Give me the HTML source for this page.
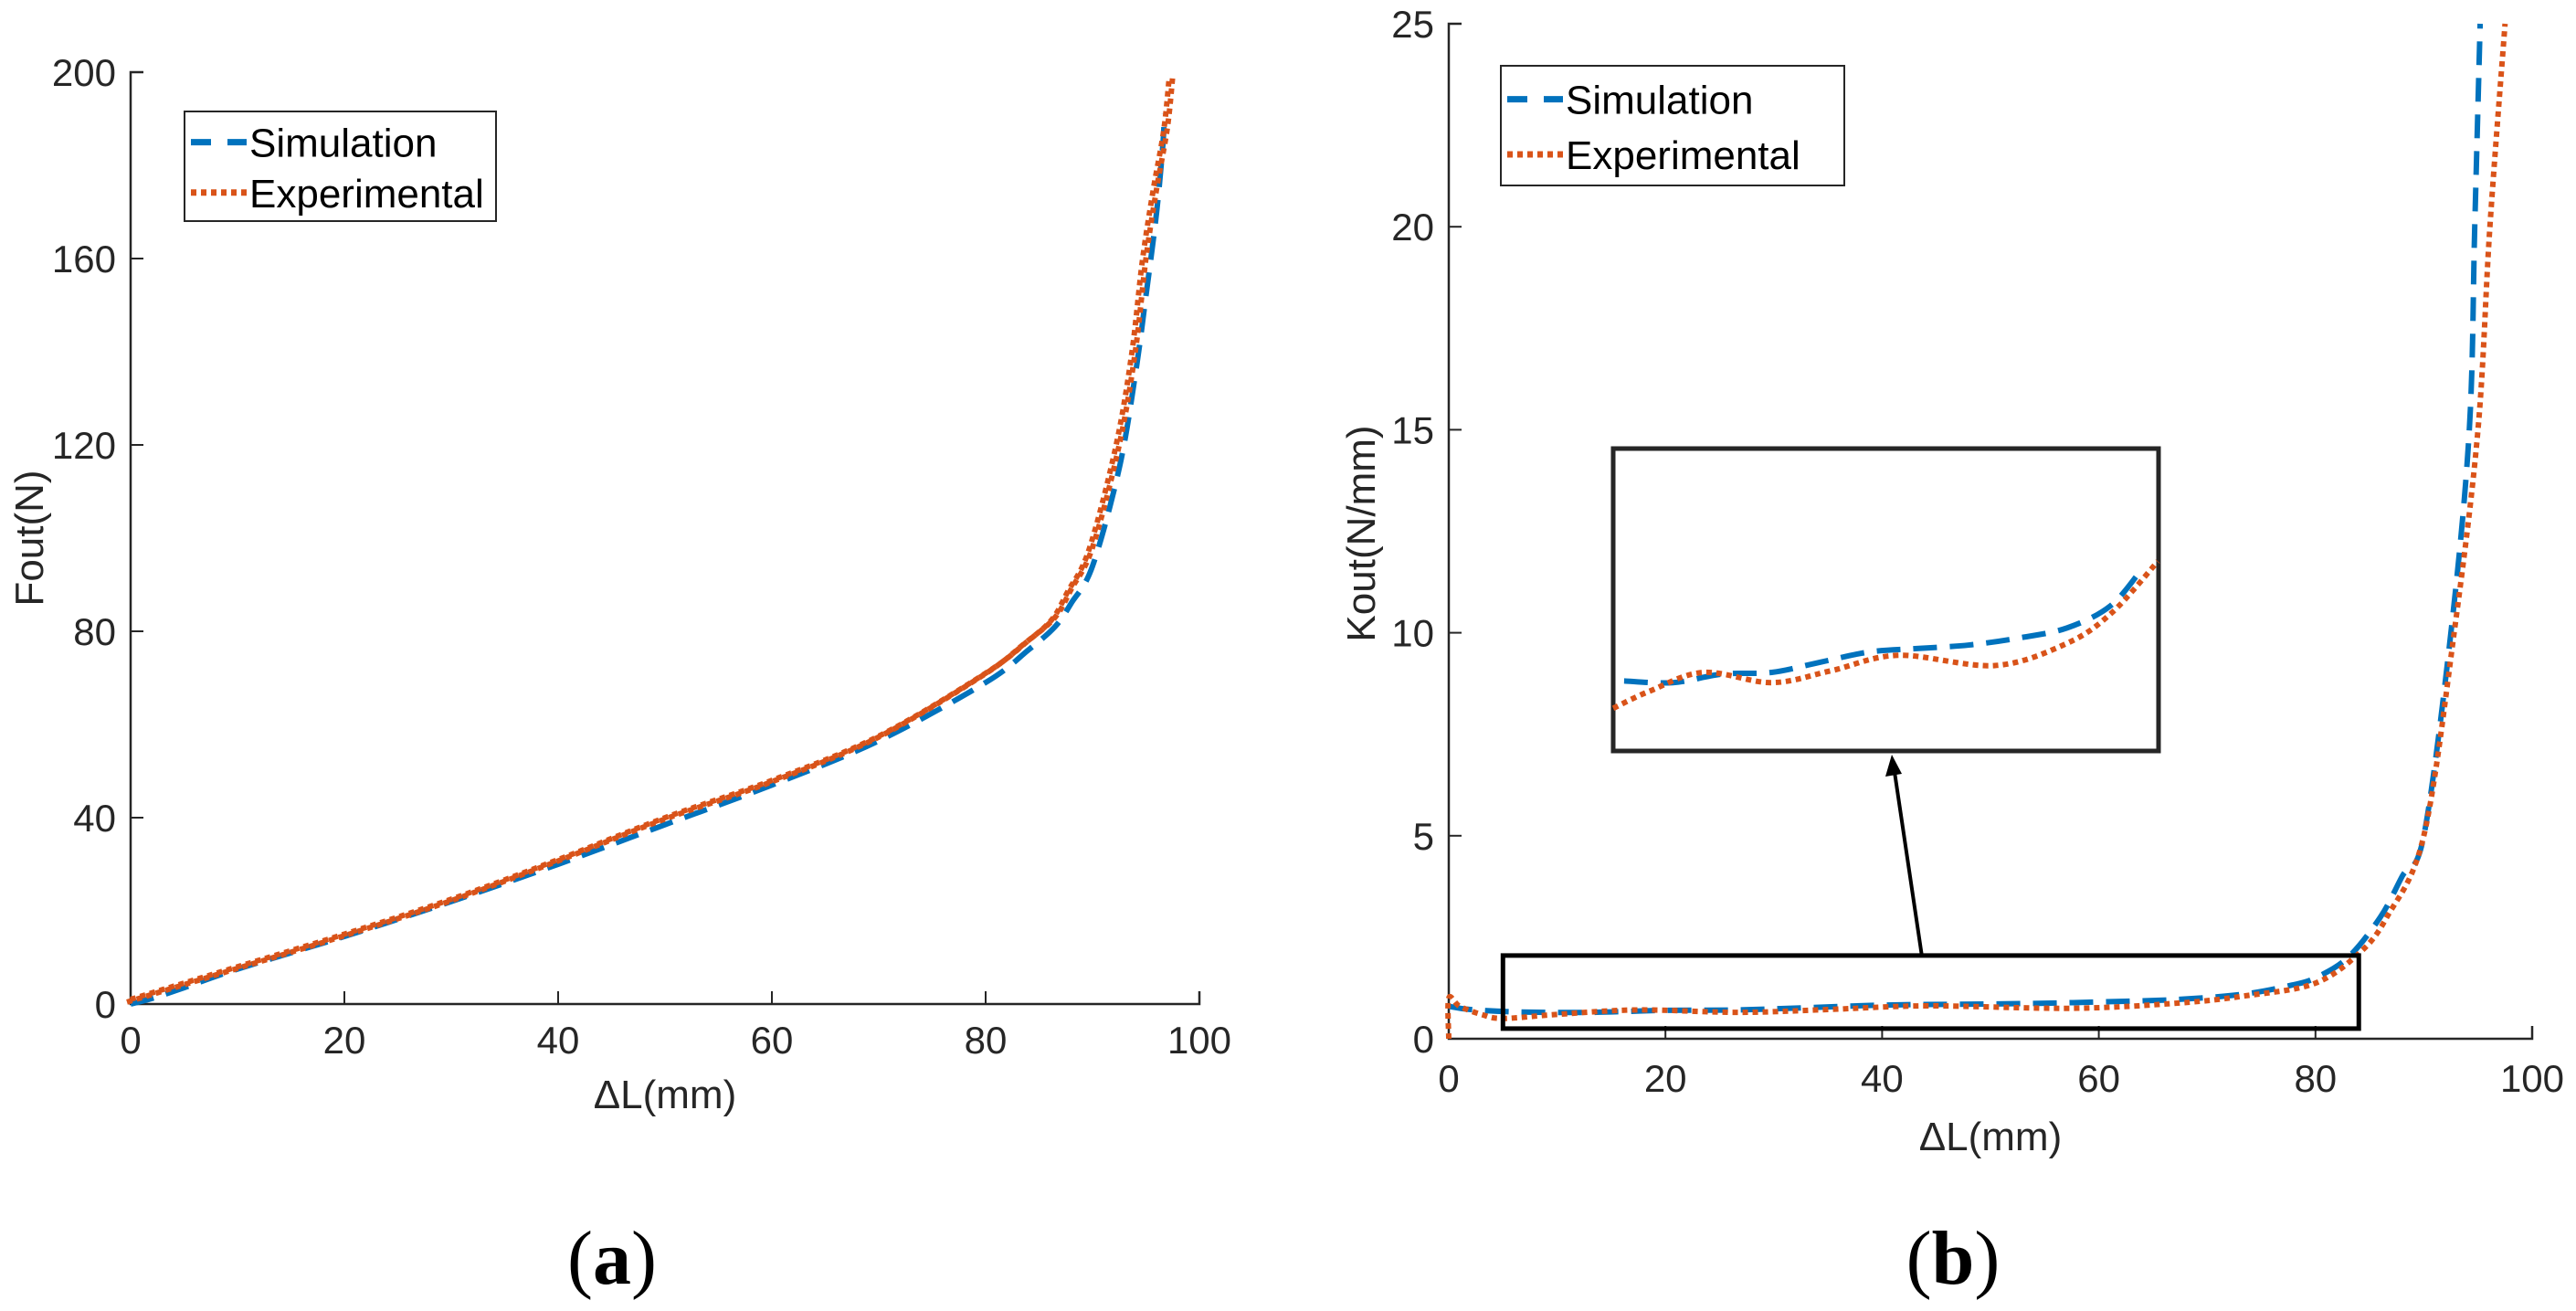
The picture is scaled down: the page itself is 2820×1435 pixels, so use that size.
<!DOCTYPE html>
<html><head><meta charset="utf-8"><style>
body{margin:0;background:#fff}
svg text{font-family:"Liberation Sans",sans-serif;fill:#262626}
</style></head><body>
<svg id="c" width="2820" height="1430" viewBox="0 0 2820 1430" xmlns="http://www.w3.org/2000/svg"></svg>
<script>
const xTicks=[0,20,40,60,80,100];
const fTicks=[0,40,80,120,160,200];
const kTicks=[0,5,10,15,20,25];
const fSimX=[0,2,5,10,20,30,40,50,60,70,80,84,86.5,88,90,92.5,94,95,96,96.6,96.7];
const fSimY=[0,1.2,3.5,7.5,14.5,22,30,38.5,47,56.5,69,76,81,86,94,115,135,152,170,185,191];
const fExpX=[0,5,10,20,30,40,50,60,70,80,84,86.5,88,90,92.5,94,95,96,97,97.5];
const fExpY=[1,4.5,8,15,22.5,31,40,48,57.5,71,78,83,89,98,120,140,160,175,188,199];
const kSimX=[0,2,6.5,13.2,20,26.8,33.5,40.3,47,53.9,60.6,67.4,73.4,77.8,80,83,86,88,90,92.5,94.2,94.7,95.2];
const kSimY=[0.8,0.72,0.66,0.65,0.7,0.71,0.77,0.83,0.85,0.87,0.91,0.97,1.1,1.32,1.5,2,3,4,5,10,15,20,25];
const kExpX=[0,0,1,3,5,10,17.4,26.8,35,44.2,57.5,67.4,73.6,79.9,84,86.6,90,92.8,95,96.1,97.5];
const kExpY=[0,1,0.8,0.6,0.5,0.6,0.71,0.65,0.72,0.81,0.75,0.88,1.06,1.36,2.1,3,5,10,15,20,25];
const svg=document.getElementById('c');const NS='http://www.w3.org/2000/svg';
function mk(t,a,p){const e=document.createElementNS(NS,t);for(const k in a)e.setAttribute(k,a[k]);(p||svg).appendChild(e);return e;}
function path(xs,ys,fx,fy){const p=xs.map((x,i)=>[fx(x),fy(ys[i])]);let d='M'+p[0][0]+','+p[0][1];
for(let i=0;i<p.length-1;i++){const p0=p[Math.max(0,i-1)],p1=p[i],p2=p[i+1],p3=p[Math.min(p.length-1,i+2)];
d+=' C'+(p1[0]+(p2[0]-p0[0])/6)+','+(p1[1]+(p2[1]-p0[1])/6)+' '+(p2[0]-(p3[0]-p1[0])/6)+','+(p2[1]-(p3[1]-p1[1])/6)+' '+p2[0]+','+p2[1];}return d;}
function axes(x0,x1,y0,y1,ymax,yt,tag,ylab,ylx,yly,xly,xlx,tly){
 const fx=v=>x0+(x1-x0)*v/100, fy=v=>y0-(y0-y1)*v/ymax;
 let e=mk('path',{d:`M${x0+14},${y1}H${x0}V${y0}H${x1}V${y0-14}`,fill:'none',stroke:'#262626','stroke-width':2.5});
 
 xTicks.forEach(t=>{mk('line',{x1:fx(t),x2:fx(t),y1:y0,y2:y0-14,stroke:'#262626','stroke-width':2});
  e=mk('text',{x:fx(t),y:tly+15,'font-size':42,'text-anchor':'middle'});e.textContent=t;
  });
 yt.forEach(t=>{mk('line',{x1:x0,x2:x0+14,y1:fy(t),y2:fy(t),stroke:'#262626','stroke-width':2});
  e=mk('text',{x:x0-16,y:fy(t)+15,'font-size':42,'text-anchor':'end'});e.textContent=t;
  });
 e=mk('text',{x:xlx,y:xly+16,'font-size':44,'text-anchor':'middle'});e.textContent='ΔL(mm)';
 
 e=mk('text',{x:0,y:0,'font-size':44,'text-anchor':'middle',transform:`translate(${ylx+16},${yly}) rotate(-90)`});e.textContent=ylab;
 
 return [fx,fy];}
function series(xs,ys,fx,fy,sim,name){const e=mk('path',{d:path(xs,ys,fx,fy),fill:'none',stroke:sim?'#0072BD':'#D95319','stroke-width':6,'stroke-dasharray':sim?'26,14':'6,5'});
 }
function legend(x,y,w,h,tag){let e=mk('rect',{x,y,width:w,height:h,fill:'#fff',stroke:'#262626','stroke-width':2});
 
 mk('line',{x1:x+7,x2:x+68,y1:y+h*0.28,y2:y+h*0.28,stroke:'#0072BD','stroke-width':7,'stroke-dasharray':'22,18'});
 mk('line',{x1:x+7,x2:x+68,y1:y+h*0.74,y2:y+h*0.74,stroke:'#D95319','stroke-width':7,'stroke-dasharray':'6,5'});
 e=mk('text',{x:x+71,y:y+h*0.28+16,'font-size':44,style:'fill:#000'});e.textContent='Simulation';
 
 e=mk('text',{x:x+71,y:y+h*0.74+16,'font-size':44,style:'fill:#000'});e.textContent='Experimental';
 }
// (a)
let [fx,fy]=axes(143,1313,1099,79,200,fTicks,'a','Fout(N)',31,589,1197,728,1138);
series(fSimX,fSimY,fx,fy,true,'a-simulation-line');
series(fExpX,fExpY,fx,fy,false,'a-experimental-line');
series(fExpX,fExpY,v=>fx(v)-4,v=>fy(v)+3,false,'a-experimental-unload-line');
legend(202,122,341,120,'a');
// (b)
[fx,fy]=axes(1586,2772,1137,26,25,kTicks,'b','Kout(N/mm)',1489,584,1243,2179,1180);
series(kSimX,kSimY,fx,fy,true,'b-simulation-line');
series(kExpX,kExpY,fx,fy,false,'b-experimental-line');
legend(1643,72,376,131,'b');
let e=mk('rect',{x:fx(5),y:fy(2.05),width:fx(84)-fx(5),height:fy(0.25)-fy(2.05),fill:'none',stroke:'#000','stroke-width':5});

e=mk('rect',{x:1766,y:491,width:597,height:331,fill:'#fff',stroke:'#262626','stroke-width':5});

const ix=v=>1766+597*(v-5)/75, iy=v=>822-(v-0.25)*187;
const sx=kSimX.filter(v=>v>=5&&v<=78), sy=kSimY.filter((v,i)=>kSimX[i]>=5&&kSimX[i]<=78);
const ex=kExpX.filter(v=>v>=5&&v<=80), ey=kExpY.filter((v,i)=>kExpX[i]>=5&&kExpX[i]<=80);
series(sx,sy,ix,iy,true,'inset-simulation-line');
series(ex,ey,ix,iy,false,'inset-experimental-line');
e=mk('line',{x1:2104,y1:1047,x2:2074,y2:845,stroke:'#000','stroke-width':4});

mk('path',{d:'M2071,826 L2064,850 L2082,847 Z',fill:'#000'});
// captions
e=mk('text',{x:670,y:1405,'font-size':84,'text-anchor':'middle',style:'font-family:"Liberation Serif",serif;fill:#000'});
e.innerHTML='(<tspan font-weight="bold">a</tspan>)';
e=mk('text',{x:2138,y:1405,'font-size':84,'text-anchor':'middle',style:'font-family:"Liberation Serif",serif;fill:#000'});
e.innerHTML='(<tspan font-weight="bold">b</tspan>)';
</script>
</body></html>
